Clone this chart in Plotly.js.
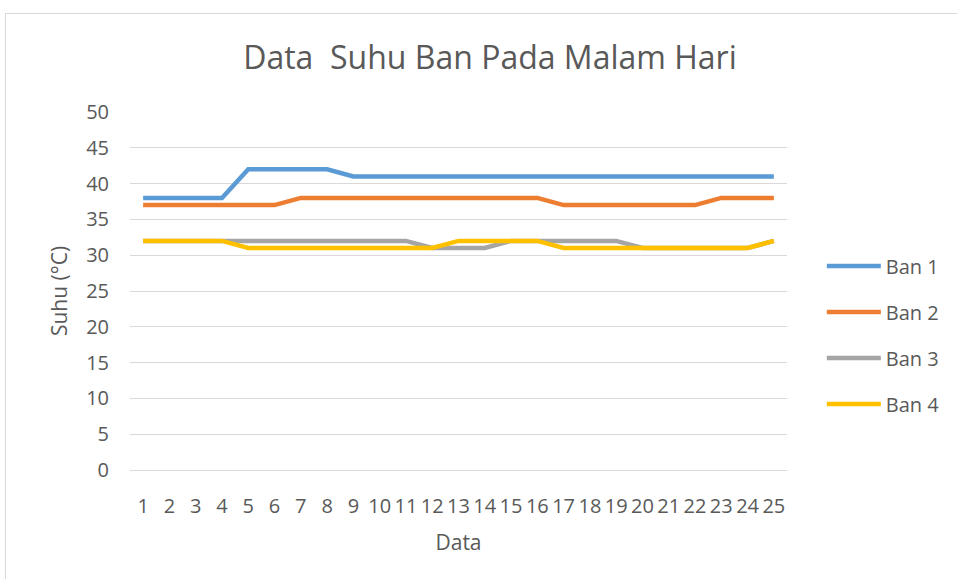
<!DOCTYPE html>
<html>
<head>
<meta charset="utf-8">
<script src="https://cdn.plot.ly/plotly-3.0.1.min.js"></script>
<style>
html,body{margin:0;padding:0;background:#fff;}
#chart{width:957px;height:579px;position:relative;}
#frame{position:absolute;left:5px;top:13px;width:970px;height:600px;border:1px solid #d9d9d9;pointer-events:none;}
</style>
</head>
<body>
<div id="chart"></div>
<div id="frame"></div>
<script>
const categories = ["1","2","3","4","5","6","7","8","9","10","11","12","13","14","15","16","17","18","19","20","21","22","23","24","25"];
const ban1 = [38,38,38,38,42,42,42,42,41,41,41,41,41,41,41,41,41,41,41,41,41,41,41,41,41];
const ban2 = [37,37,37,37,37,37,38,38,38,38,38,38,38,38,38,38,37,37,37,37,37,37,38,38,38];
const ban3 = [32,32,32,32,32,32,32,32,32,32,32,31,31,31,32,32,32,32,32,31,31,31,31,31,32];
const ban4 = [32,32,32,32,31,31,31,31,31,31,31,31,32,32,32,32,31,31,31,31,31,31,31,31,32];
const seriesNames = ["Ban 1","Ban 2","Ban 3","Ban 4"];
const seriesColors = ["#5B9BD5","#ED7D31","#A5A5A5","#FFC000"];
const seriesData = [ban1, ban2, ban3, ban4];

const font = "Open Sans, Noto Sans, sans-serif";
const traces = seriesData.map((d,i)=>({
  x: categories, y: d, type: "scatter", mode: "lines", name: seriesNames[i],
  legendgroup: "g"+i,
  line: {color: seriesColors[i], width: 4.5, shape: "linear"},
  hoverinfo: "x+y+name"
}));

const layout = {
  width: 957, height: 579,
  margin: {l:130, r:168, t:112, b:109, pad:0},
  paper_bgcolor: "#fff", plot_bgcolor: "#fff",
  font: {family: font, color: "#595959", size: 20},
  showlegend: true,
  title: {text: "Data  Suhu Ban Pada Malam Hari", font: {family: font, size: 32, color: "#595959"},
          xref: "container", x: 0.512, xanchor: "center", yref: "container", y: 0.9, yanchor: "middle"},
  xaxis: {
    type: "category", range: [-0.5, 24.5], showgrid: false, zeroline: false,
    showline: true, linecolor: "#d9d9d9", linewidth: 1,
    ticks: "", tickfont: {family: font, size: 20, color: "#595959"},
    ticklabelstandoff: 18,
    title: {text: "Data", font: {family: font, size: 21, color: "#595959"}, standoff: 17}
  },
  yaxis: {
    range: [0, 50], dtick: 5, tick0: 0, showgrid: true, gridcolor: "#d9d9d9", gridwidth: 1,
    zeroline: false, showline: false, ticks: "",
    tickfont: {family: font, size: 20, color: "#595959"},
    ticklabelstandoff: 20,
    title: {text: "Suhu (°C)", font: {family: font, size: 21, color: "#595959"}, standoff: 12}
  },
  legend: {
    x: 1.053, xref: "paper", xanchor: "left",
    y: 0.377, yanchor: "middle",
    font: {family: font, size: 20, color: "#595959"},
    traceorder: "grouped", tracegroupgap: 17,
    itemwidth: 54, bgcolor: "rgba(0,0,0,0)"
  }
};

Plotly.newPlot("chart", traces, layout, {displayModeBar: false, staticPlot: true});
</script>
</body>
</html>
